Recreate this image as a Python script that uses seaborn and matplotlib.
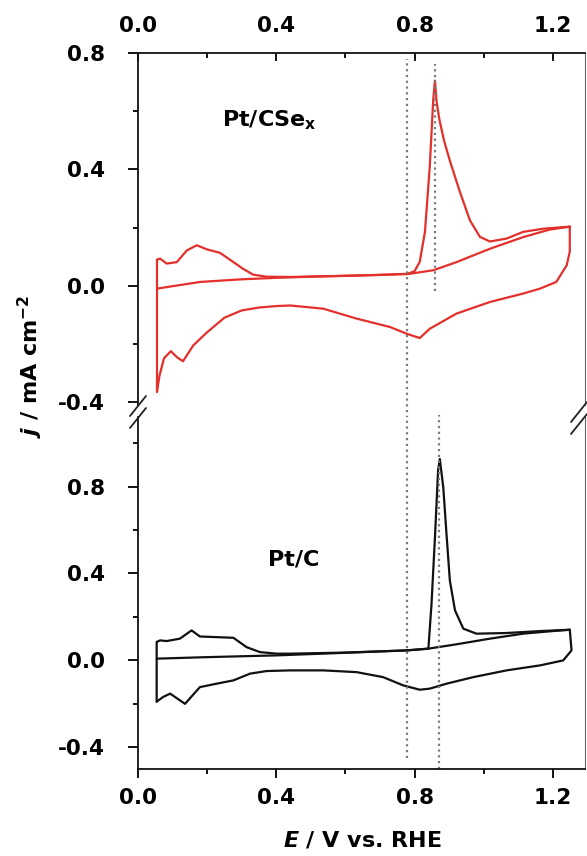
import matplotlib
matplotlib.use("Agg")
import matplotlib.pyplot as plt
from matplotlib.lines import Line2D
from matplotlib.ticker import MultipleLocator
import seaborn as sns

# ---------------- data ----------------
# Pt/CSe_x : first anodic scan (CO stripping)
csex_e_scan1 = [0.055, 0.18, 0.30, 0.40, 0.50, 0.60, 0.70, 0.78, 0.80, 0.815, 0.83,
                0.844, 0.854, 0.859, 0.864, 0.872, 0.885, 0.902, 0.931, 0.96, 0.989, 1.018,
                1.066, 1.114, 1.172, 1.249]
csex_j_scan1 = [-0.01, 0.013, 0.022, 0.027, 0.031, 0.034, 0.037, 0.041, 0.05, 0.082, 0.185,
                0.41, 0.64, 0.705, 0.63, 0.57, 0.5, 0.43, 0.323, 0.225, 0.168, 0.152,
                0.162, 0.185, 0.196, 0.203]
# Pt/CSe_x : cathodic scan
csex_e_cath = [1.249, 1.249, 1.24, 1.21, 1.163, 1.114, 1.018, 0.921, 0.844, 0.815, 0.777,
               0.729, 0.632, 0.536, 0.44, 0.40, 0.35, 0.30, 0.25, 0.20, 0.16, 0.13,
               0.112, 0.095, 0.075, 0.062, 0.055]
csex_j_cath = [0.203, 0.117, 0.07, 0.013, -0.01, -0.027, -0.056, -0.096, -0.148, -0.18, -0.165,
               -0.142, -0.113, -0.079, -0.068, -0.07, -0.075, -0.085, -0.11, -0.16, -0.205, -0.26,
               -0.245, -0.225, -0.25, -0.31, -0.365]
# Pt/CSe_x : second anodic scan
csex_e_scan2 = [0.055, 0.055, 0.064, 0.083, 0.112, 0.141, 0.170, 0.199, 0.237, 0.275, 0.304,
                0.333, 0.372, 0.44, 0.60, 0.78, 0.854, 0.921, 1.018, 1.114, 1.191, 1.249]
csex_j_scan2 = [-0.365, 0.09, 0.093, 0.076, 0.081, 0.121, 0.139, 0.125, 0.113, 0.082, 0.058,
                0.038, 0.031, 0.03, 0.034, 0.04, 0.053, 0.081, 0.127, 0.167, 0.193, 0.203]

# Pt/C : first anodic scan (CO stripping)
ptc_e_scan1 = [0.054, 0.2, 0.4, 0.6, 0.777, 0.84, 0.849, 0.859, 0.868, 0.873, 0.883, 0.893,
               0.902, 0.917, 0.941, 0.979, 1.066, 1.163, 1.249]
ptc_j_scan1 = [0.008, 0.015, 0.023, 0.035, 0.046, 0.054, 0.26, 0.567, 0.874, 0.927, 0.797, 0.567,
               0.368, 0.23, 0.146, 0.123, 0.126, 0.135, 0.141]
# Pt/C : cathodic scan
ptc_e_cath = [1.249, 1.254, 1.23, 1.163, 1.066, 0.97, 0.893, 0.844, 0.815, 0.767, 0.709, 0.632,
              0.536, 0.44, 0.372, 0.324, 0.276, 0.228, 0.179, 0.136, 0.093, 0.073, 0.054]
ptc_j_cath = [0.141, 0.046, 0.0, -0.023, -0.046, -0.077, -0.107, -0.13, -0.135, -0.115, -0.077, -0.054,
              -0.046, -0.046, -0.049, -0.061, -0.092, -0.107, -0.123, -0.2, -0.153, -0.168, -0.19]
# Pt/C : second anodic scan
ptc_e_scan2 = [0.054, 0.054, 0.064, 0.083, 0.121, 0.155, 0.179, 0.228, 0.276, 0.314, 0.353,
               0.401, 0.44, 0.6, 0.777, 0.84, 0.921, 1.018, 1.114, 1.2, 1.249]
ptc_j_scan2 = [-0.19, 0.085, 0.092, 0.089, 0.1, 0.138, 0.11, 0.107, 0.104, 0.061, 0.038,
               0.031, 0.031, 0.036, 0.046, 0.054, 0.074, 0.1, 0.123, 0.135, 0.141]

# reference potentials (dotted lines)
onset_e = 0.778
peak_csex_e = 0.859
peak_ptc_e = 0.870

x_ticks = [0.0, 0.4, 0.8, 1.2]
y_ticks = [-0.4, 0.0, 0.4, 0.8]
label_csex = r"Pt/CSe$_{\mathbf{x}}$"
label_ptc = "Pt/C"
x_label = r"$E$ / V vs. RHE"
y_label = r"$j$ / mA cm$^{-2}$"

# ---------------- style ----------------
sns.set_style("white")
plt.rcParams["font.family"] = ["DejaVu Sans"]
plt.rcParams["font.weight"] = "bold"
plt.rcParams["text.color"] = "black"
plt.rcParams["xtick.color"] = "black"
plt.rcParams["ytick.color"] = "black"
plt.rcParams["axes.labelcolor"] = "black"
plt.rcParams["mathtext.fontset"] = "custom"
plt.rcParams["mathtext.rm"] = "DejaVu Sans:bold"
plt.rcParams["mathtext.bf"] = "DejaVu Sans:bold"
plt.rcParams["mathtext.it"] = "DejaVu Sans:italic:bold"

RED = "#e3302b"
BLACK = "#111111"
DOT = "#7a7a7a"
FS_TICK = 15.5
FS_LAB = 16

fig = plt.figure(figsize=(5.87, 8.56), dpi=100)
L, W, H = 0.2351, 0.7615, 0.4112
ax_top = fig.add_axes([L, 0.5269, W, H])
ax_bot = fig.add_axes([L, 0.1016, W, H])

for (ax, segs, col) in [
    (ax_top, [(csex_e_scan1, csex_j_scan1), (csex_e_cath, csex_j_cath), (csex_e_scan2, csex_j_scan2)], RED),
    (ax_bot, [(ptc_e_scan1, ptc_j_scan1), (ptc_e_cath, ptc_j_cath), (ptc_e_scan2, ptc_j_scan2)], BLACK),
]:
    for e, j in segs:
        sns.lineplot(x=e, y=j, ax=ax, sort=False, estimator=None, color=col, lw=1.6)

ax_top.set_xlim(0, 1.293)
ax_bot.set_xlim(0, 1.293)
ax_top.set_ylim(-0.41, 0.8)
ax_bot.set_ylim(-0.5, 1.12)

# dotted lines
dot_kw = dict(color=DOT, ls=(0, (1, 1.6)), lw=1.6)
ax_top.vlines(onset_e, -0.455, 0.78, clip_on=False, **dot_kw)
ax_top.vlines(peak_csex_e, -0.017, 0.763, **dot_kw)
ax_bot.vlines(onset_e, -0.45, 1.12, **dot_kw)
ax_bot.vlines(peak_ptc_e, -0.5, 1.13, clip_on=False, **dot_kw)

# spines and ticks
for ax in (ax_top, ax_bot):
    for s in ax.spines.values():
        s.set_linewidth(1.3)
        s.set_color("#111111")
    ax.spines["right"].set_linewidth(0.8)
    ax.spines["right"].set_color("#666666")
    ax.set_xticks(x_ticks)
    ax.set_yticks(y_ticks)
    ax.xaxis.set_minor_locator(MultipleLocator(0.2))
    ax.yaxis.set_minor_locator(MultipleLocator(0.2))
    ax.set_xticklabels([f"{v:.1f}" for v in x_ticks], fontsize=FS_TICK, fontweight="bold")
    ax.set_yticklabels([f"{v:.1f}" for v in y_ticks], fontsize=FS_TICK, fontweight="bold")
    ax.tick_params(axis="y", which="major", direction="out", length=7, width=1.3,
                   left=True, right=False, pad=17)
    ax.tick_params(axis="y", which="minor", direction="out", length=3.5, width=1.3,
                   left=True, right=False)

ax_top.spines["bottom"].set_visible(False)
ax_bot.spines["top"].set_visible(False)
ax_top.xaxis.tick_top()
ax_top.tick_params(axis="x", which="major", direction="in", length=6, width=1.3,
                   top=True, bottom=False, labeltop=True, labelbottom=False, pad=12)
ax_top.tick_params(axis="x", which="minor", direction="in", length=3.5, width=1.3,
                   top=True, bottom=False)
ax_bot.tick_params(axis="x", which="major", direction="out", length=6.5, width=1.3,
                   top=False, bottom=True, pad=7)
ax_bot.tick_params(axis="x", which="minor", direction="out", length=3.5, width=1.3,
                   top=False, bottom=True)

for ax in (ax_top, ax_bot):
    ax.set_xlabel("")
    ax.set_ylabel("")

# sample labels
ax_top.text(0.243, 0.546, label_csex, fontsize=FS_LAB, fontweight="bold", ha="left", va="baseline")
ax_bot.text(0.376, 0.437, label_ptc, fontsize=FS_LAB, fontweight="bold", ha="left", va="baseline")

# axis labels
fig.text(0.6167, 1 - 847 / 856, x_label, fontsize=FS_LAB, fontweight="bold", ha="center", va="baseline")
fig.text(0.052, 1 - 366 / 856, y_label, fontsize=FS_LAB, fontweight="bold", rotation=90,
         ha="center", va="center")

# axis-break marks on left and right spines
FW, FH = 587.0, 856.0
def brk(xc, yc):
    for dy in (-6, 6):
        x0, y0 = xc - 8, yc + dy + 10
        x1, y1 = xc + 8, yc + dy - 10
        fig.add_artist(Line2D([x0 / FW, x1 / FW], [1 - y0 / FH, 1 - y1 / FH],
                              transform=fig.transFigure, color="#222222", lw=1.3))
brk(138, 412)
brk(579, 418)

fig.savefig("out.png", dpi=100)
